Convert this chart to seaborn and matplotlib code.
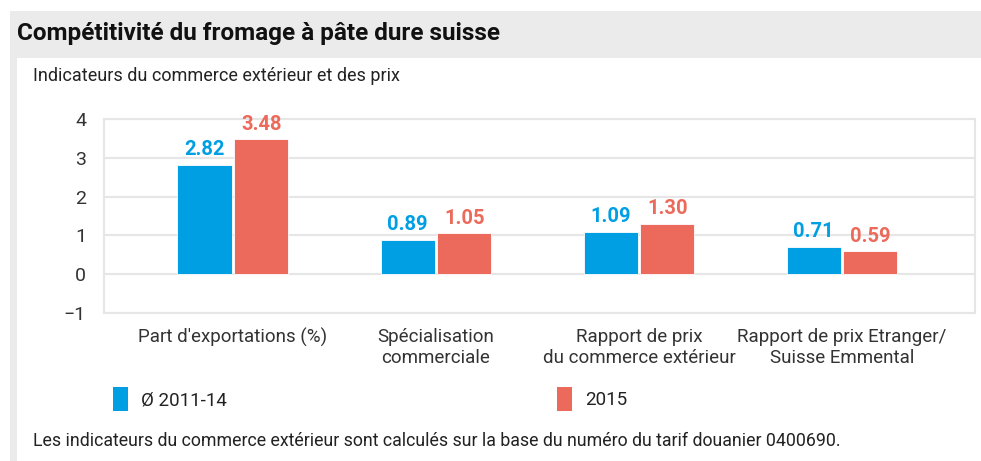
import pandas as pd
import seaborn as sns
from matplotlib import pyplot as plt
from matplotlib.patches import Rectangle, Patch

sns.set_style("white")
plt.rcParams['font.family'] = ['Roboto', 'DejaVu Sans']

categories = ["Part d'exportations (%)",
              "Spécialisation\ncommerciale",
              "Rapport de prix\ndu commerce extérieur",
              "Rapport de prix Etranger/\nSuisse Emmental"]
periods = ["Ø 2011-14", "2015"]
values_2011_14 = [2.82, 0.89, 1.09, 0.71]
values_2015 = [3.48, 1.05, 1.30, 0.59]
y_ticks = [-1, 0, 1, 2, 3, 4]

blue = '#009fe3'
red = '#ec6a5b'
grid_col = '#e6e6e6'
txt_col = '#333333'

df = pd.DataFrame({
    'categorie': categories * 2,
    'periode': [periods[0]] * 4 + [periods[1]] * 4,
    'valeur': values_2011_14 + values_2015,
})

W, H = 981, 461
fig = plt.figure(figsize=(W / 100, H / 100), dpi=100)
fig.patch.set_facecolor('white')

# gray frame + white panel
fig.patches.append(Rectangle((10 / W, 0), 1, 1 - 11 / H, transform=fig.transFigure,
                             facecolor='#ebebeb', edgecolor='none', zorder=-2))
fig.patches.append(Rectangle((17 / W, 0), 1, 1 - 58 / H, transform=fig.transFigure,
                             facecolor='white', edgecolor='none', zorder=-1))

ax = fig.add_axes([104 / W, 1 - 313 / H, (975 - 104) / W, (313 - 119) / H])
ax.set_facecolor('none')

sns.barplot(data=df, x='categorie', y='valeur', hue='periode', order=categories,
            hue_order=periods, palette=[blue, red], saturation=1, width=0.56, gap=0.05,
            edgecolor='white', linewidth=0.6, legend=False, ax=ax)

for cont, col in zip(ax.containers, [blue, red]):
    ax.bar_label(cont, fmt='%.2f', color=col, padding=4, fontsize=14.5,
                 fontweight='bold')

ax.set_ylim(-1, 4)
ax.set_xlim(-0.635, 3.655)
ax.set_yticks(y_ticks)
ax.set_yticklabels(['\u22121', '0', '1', '2', '3', '4'], fontsize=14, color=txt_col)
ax.yaxis.grid(True, color=grid_col, lw=1.5)
ax.set_axisbelow(True)
for s in ax.spines.values():
    s.set_color(grid_col)
    s.set_linewidth(1.5)
ax.tick_params(axis='y', length=0, pad=13)
ax.tick_params(axis='x', length=7, color='#dcdcdc', width=1.2, pad=4,
               labelsize=13.5, labelcolor=txt_col)
ax.set_xlabel('')
ax.set_ylabel('')

fig.text(17 / W, 1 - 33 / H, "Compétitivité du fromage à pâte dure suisse",
         fontsize=17.5, fontweight='bold', color='#111111', va='center')
fig.text(33 / W, 1 - 76 / H, "Indicateurs du commerce extérieur et des prix",
         fontsize=13, color='#222222', va='center')
fig.text(33 / W, 1 - 441 / H,
         "Les indicateurs du commerce extérieur sont calculés sur la base du numéro du tarif douanier 0400690.",
         fontsize=12.8, color='#222222', va='center')

for lab, col, x in [(periods[0], blue, 113), (periods[1], red, 557)]:
    fig.legend(handles=[Patch(facecolor=col, edgecolor='none', label=lab)],
               loc='center left', bbox_to_anchor=(x / W, 1 - 399 / H),
               frameon=False, fontsize=13.5, handlelength=0.8, handleheight=1.6,
               handletextpad=0.7, borderaxespad=0, borderpad=0, labelcolor='#222222')

fig.savefig('out.png', dpi=100)
